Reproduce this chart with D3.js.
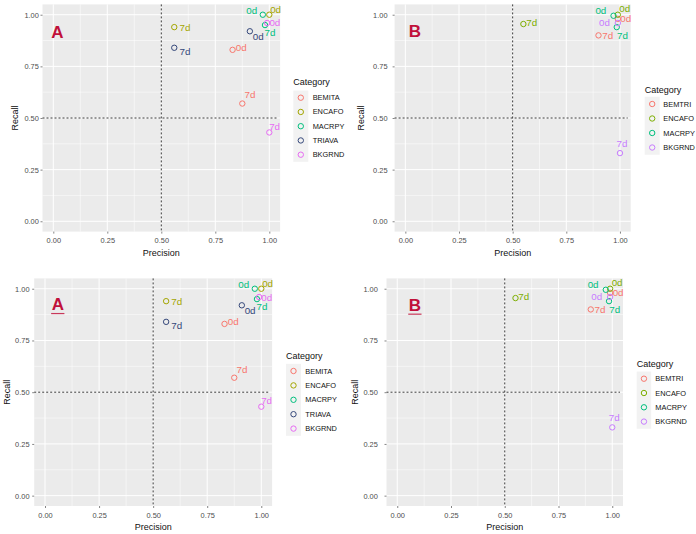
<!DOCTYPE html>
<html><head><meta charset="utf-8">
<script src="https://cdn.jsdelivr.net/npm/d3@7"></script>
<style>
body{margin:0;background:#fff}
svg{display:block;font-family:"Liberation Sans",Arial,sans-serif}
</style>
</head><body>
<svg id="c" width="696" height="534"></svg>
<script>
// ---------- data ----------
const timepoints = ["0d", "7d"];
const ticks = [0, 0.25, 0.5, 0.75, 1];
const tickLabels = ["0.00", "0.25", "0.50", "0.75", "1.00"];
const minorTicks = [0.125, 0.375, 0.625, 0.875];

const categoriesA = ["BEMITA", "ENCAFO", "MACRPY", "TRIAVA", "BKGRND"];
const precisionA0d = [0.83, 1.00, 0.97, 0.91, 0.99];
const recallA0d    = [0.83, 1.00, 1.00, 0.92, 0.96];
const precisionA7d = [0.875, 0.56, 0.98, 0.56, 1.00];
const recallA7d    = [0.57, 0.94, 0.95, 0.84, 0.43];

const categoriesB = ["BEMTRI", "ENCAFO", "MACRPY", "BKGRND"];
const precisionB0d = [0.99, 0.99, 0.97, 0.99];
const recallB0d    = [0.98, 1.00, 0.995, 0.96];
const precisionB7d = [0.90, 0.55, 0.985, 1.00];
const recallB7d    = [0.90, 0.955, 0.94, 0.33];

// ---------- styles / layout ----------
const colorsA = ["#F8766D", "#A3A500", "#00BF7D", "#34477A", "#E76BF3"];
const colorsB = ["#F8766D", "#7CAE00", "#00BF7D", "#C77CFF"];
// label nudges (px) for repelled text labels: [dx, dy] per category per timepoint
const nudgeA = {
  "BEMITA": [[8.7, -2], [7.7, -8.7]],
  "ENCAFO": [[6.3, -5.7], [10.7, 0.7]],
  "MACRPY": [[-11, -4.7], [5, 7.7]],
  "TRIAVA": [[8.3, 5], [10.7, 4]],
  "BKGRND": [[7.7, 0], [5.3, -6.3]]
};
const nudgeB = {
  "BEMTRI": [[8, 0], [9.3, 0]],
  "ENCAFO": [[7, -6.3], [8.3, -1.7]],
  "MACRPY": [[-12.7, -5.7], [5.7, 8.7]],
  "BKGRND": [[-13.3, -0.7], [2, -10]]
};

const panels = [
  {tag:"A", under:false, cats:categoriesA, colors:colorsA, p0:precisionA0d, r0:recallA0d, p7:precisionA7d, r7:recallA7d, nudge:nudgeA,
   left:42.5, right:280.1, top:4.4, bottom:231.6, tagX:0.019, tagY:0.888, yTitleX:15, yTickGap:3.2, xTitleY:253.3, xTickY:240,
   leg:{x:293.3, titleY:82, y0:97.7, step:14.25, textX:312.7, boxW:15}},
  {tag:"B", under:false, cats:categoriesB, colors:colorsB, p0:precisionB0d, r0:recallB0d, p7:precisionB7d, r7:recallB7d, nudge:nudgeB,
   left:394.6, right:630.7, top:4.4, bottom:231.6, tagX:0.045, tagY:0.892, yTitleX:361.3, yTickGap:6.6, xTitleY:253.3, xTickY:240,
   leg:{x:644.7, titleY:90, y0:104, step:14.5, textX:663.3, boxW:15}},
  {tag:"A", under:true, cats:categoriesA, colors:colorsA, p0:precisionA0d, r0:recallA0d, p7:precisionA7d, r7:recallA7d, nudge:nudgeA,
   left:34.2, right:272.1, top:278.4, bottom:506.0, tagX:0.059, tagY:0.897, yTitleX:7.3, yTickGap:4.2, xTitleY:527, xTickY:515.3,
   leg:{x:286, titleY:356.3, y0:371, step:14.4, textX:305.3, boxW:15}},
  {tag:"B", under:true, cats:categoriesB, colors:colorsB, p0:precisionB0d, r0:recallB0d, p7:precisionB7d, r7:recallB7d, nudge:nudgeB,
   left:386.5, right:623.0, top:278.4, bottom:506.0, tagX:0.082, tagY:0.894, yTitleX:354.7, yTickGap:8.2, xTitleY:527, xTickY:515.3,
   leg:{x:636.7, titleY:363.7, y0:378.7, step:14.3, textX:655.3, boxW:14.5}}
];

const svg = d3.select("#c");

panels.forEach(P => {
  const x = d3.scaleLinear().domain([-0.05, 1.05]).range([P.left, P.right]);
  const y = d3.scaleLinear().domain([-0.05, 1.05]).range([P.bottom, P.top]);
  const g = svg.append("g");

  // panel background
  g.append("rect").attr("x", P.left).attr("y", P.top)
    .attr("width", P.right - P.left).attr("height", P.bottom - P.top).attr("fill", "#EBEBEB");

  // minor grid
  minorTicks.forEach(t => {
    g.append("line").attr("x1", x(t)).attr("x2", x(t)).attr("y1", P.top).attr("y2", P.bottom)
      .attr("stroke", "#fff").attr("stroke-width", 0.5);
    g.append("line").attr("y1", y(t)).attr("y2", y(t)).attr("x1", P.left).attr("x2", P.right)
      .attr("stroke", "#fff").attr("stroke-width", 0.5);
  });
  // major grid
  ticks.forEach(t => {
    g.append("line").attr("x1", x(t)).attr("x2", x(t)).attr("y1", P.top).attr("y2", P.bottom)
      .attr("stroke", "#fff").attr("stroke-width", 1);
    g.append("line").attr("y1", y(t)).attr("y2", y(t)).attr("x1", P.left).attr("x2", P.right)
      .attr("stroke", "#fff").attr("stroke-width", 1);
  });

  // axes via d3 axes
  const fmt = d => tickLabels[ticks.indexOf(d)];
  const xa = g.append("g").attr("transform", `translate(0,${P.bottom})`)
    .call(d3.axisBottom(x).tickValues(ticks).tickFormat(fmt).tickSize(2).tickPadding(P.xTickY - P.bottom - 2 - 3));
  const ya = g.append("g").attr("transform", `translate(${P.left},0)`)
    .call(d3.axisLeft(y).tickValues(ticks).tickFormat(fmt).tickSize(2).tickPadding(P.yTickGap - 2 + 0.5));
  [xa, ya].forEach(a => {
    a.select(".domain").remove();
    a.selectAll(".tick line").attr("stroke", "#333").attr("stroke-width", 0.6);
    a.selectAll(".tick text").attr("fill", "#4D4D4D").attr("font-size", 7.4)
      .attr("font-family", "Liberation Sans, Arial, sans-serif");
  });
  xa.selectAll(".tick text").attr("dy", null).attr("dominant-baseline", "hanging");

  // dashed reference lines
  g.append("line").attr("x1", x(0.5)).attr("x2", x(0.5)).attr("y1", P.top).attr("y2", P.bottom)
    .attr("stroke", "#3a3a3a").attr("stroke-width", 1).attr("stroke-dasharray", "2,2");
  g.append("line").attr("y1", y(0.5)).attr("y2", y(0.5)).attr("x1", P.left).attr("x2", P.right - 3)
    .attr("stroke", "#3a3a3a").attr("stroke-width", 1).attr("stroke-dasharray", "2,2");

  // points data
  const pts = [];
  P.cats.forEach((c, i) => {
    pts.push({cat:c, tp:timepoints[0], p:P.p0[i], r:P.r0[i], color:P.colors[i], nd:P.nudge[c][0]});
    pts.push({cat:c, tp:timepoints[1], p:P.p7[i], r:P.r7[i], color:P.colors[i], nd:P.nudge[c][1]});
  });
  g.selectAll("circle.pt").data(pts).join("circle").attr("class", "pt")
    .attr("cx", d => x(d.p)).attr("cy", d => y(d.r)).attr("r", 2.7)
    .attr("fill", "none").attr("stroke", d => d.color).attr("stroke-width", 1);
  g.selectAll("text.lab").data(pts).join("text").attr("class", "lab")
    .attr("x", d => x(d.p) + d.nd[0]).attr("y", d => y(d.r) + d.nd[1])
    .attr("text-anchor", "middle").attr("dominant-baseline", "central")
    .attr("font-size", 9.8).attr("fill", d => d.color).text(d => d.tp);

  // panel tag
  const tag = g.append("text").attr("x", x(P.tagX)).attr("y", y(P.tagY))
    .attr("text-anchor", "middle").attr("font-size", 17).attr("font-weight", "bold")
    .attr("fill", "#C0103A").text(P.tag);
  if (P.under) {
    const bb = tag.node().getBBox();
    g.append("line").attr("x1", bb.x - 0.5).attr("x2", bb.x + bb.width + 0.5)
      .attr("y1", y(P.tagY) + 3.5).attr("y2", y(P.tagY) + 3.5)
      .attr("stroke", "#C8385A").attr("stroke-width", 1.2);
  }

  // axis titles
  g.append("text").attr("x", (P.left + P.right) / 2).attr("y", P.xTitleY)
    .attr("text-anchor", "middle").attr("dominant-baseline", "central")
    .attr("font-size", 9).attr("fill", "#111").text("Precision");
  g.append("text").attr("transform", `translate(${P.yTitleX},${(P.top + P.bottom) / 2}) rotate(-90)`)
    .attr("text-anchor", "middle").attr("dominant-baseline", "central")
    .attr("font-size", 9).attr("fill", "#111").text("Recall");

  // legend
  const L = P.leg;
  g.append("text").attr("x", L.x).attr("y", L.titleY).attr("dominant-baseline", "central")
    .attr("font-size", 9).attr("fill", "#111").text("Category");
  g.append("rect").attr("x", L.x).attr("y", L.y0 - L.step / 2)
    .attr("width", L.boxW).attr("height", L.step * P.cats.length).attr("fill", "#F2F2F2");
  P.cats.forEach((c, i) => {
    const cy = L.y0 + i * L.step;
    g.append("circle").attr("cx", L.x + L.boxW / 2).attr("cy", cy).attr("r", 2.7)
      .attr("fill", "none").attr("stroke", P.colors[i]).attr("stroke-width", 1);
    g.append("text").attr("x", L.textX).attr("y", cy).attr("dominant-baseline", "central")
      .attr("font-size", 7.4).attr("fill", "#111").text(c);
  });
});
</script>
</body></html>
